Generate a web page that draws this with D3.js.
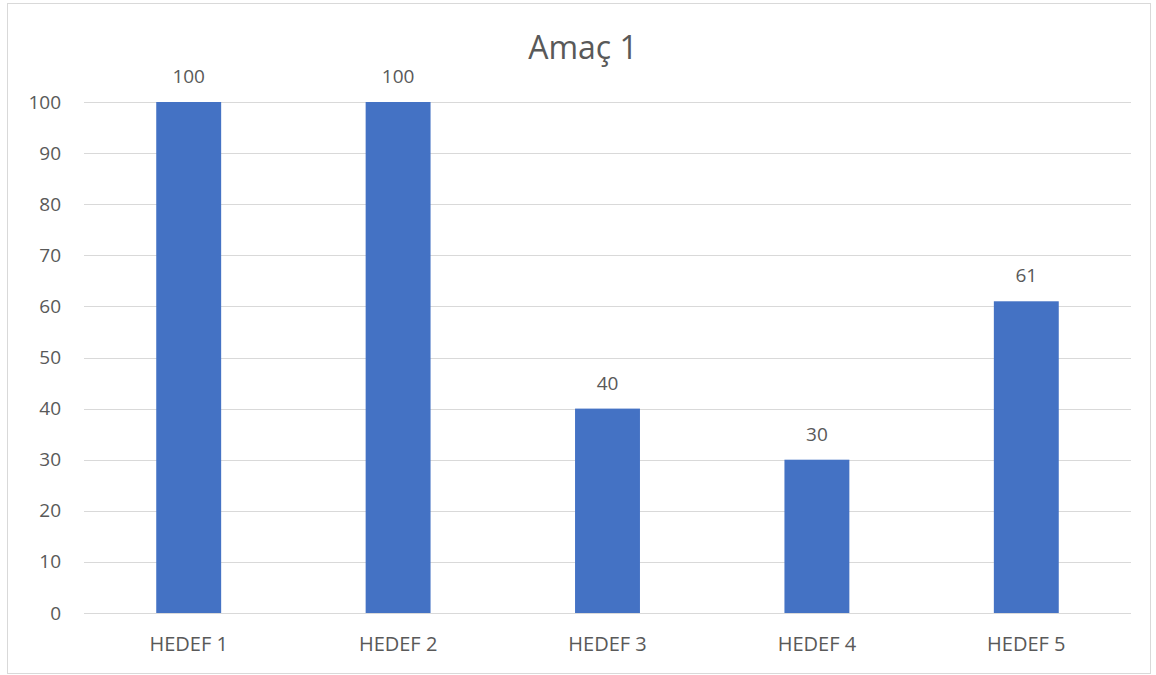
<!DOCTYPE html>
<html>
<head>
<meta charset="utf-8">
<script src="https://cdn.jsdelivr.net/npm/d3@7"></script>
<style>
  body { margin: 0; background: #fff; }
  text { font-family: "Open Sans", "Liberation Sans", sans-serif; fill: #595959; }
</style>
</head>
<body>
<svg id="chart"></svg>
<script>
'use strict';

var categories = ['HEDEF 1', 'HEDEF 2', 'HEDEF 3', 'HEDEF 4', 'HEDEF 5'];
var values = [100, 100, 40, 30, 61];
var yTicks = [0, 10, 20, 30, 40, 50, 60, 70, 80, 90, 100];
var title = 'Amaç 1';

var width = 1156,
  height = 675,
  margin = {'top': 102, 'left': 84, 'right': 25, 'bottom': 62};

var svg = d3.select('#chart')
  .attr('width', width)
  .attr('height', height);

// outer chart border
svg.append('rect')
  .attr('x', 7.5)
  .attr('y', 3.5)
  .attr('width', 1143)
  .attr('height', 670)
  .attr('fill', '#fff')
  .attr('stroke', '#d9d9d9');

var xScale = d3.scaleBand()
  .domain(categories)
  .range([margin.left, width - margin.right])
  .paddingInner(0.69)
  .paddingOuter(0.345);

var yScale = d3.scaleLinear()
  .domain([0, 100])
  .range([height - margin.bottom, margin.top]);

// gridlines
svg.append('g')
  .selectAll('line').data(yTicks).enter()
  .append('line')
  .attr('x1', margin.left)
  .attr('x2', width - margin.right)
  .attr('y1', function (d) { return Math.round(yScale(d)) + 0.5; })
  .attr('y2', function (d) { return Math.round(yScale(d)) + 0.5; })
  .attr('stroke', '#d9d9d9')
  .attr('stroke-width', 1);

// y labels
var yAxis = d3.axisLeft(yScale).tickValues(yTicks).tickSize(0).tickPadding(23);
var yg = svg.append('g')
  .attr('transform', 'translate(' + margin.left + ',0)')
  .call(yAxis);
yg.select('.domain').remove();
yg.selectAll('text').attr('font-size', 19).attr('fill', '#595959');

// x labels
var xAxis = d3.axisBottom(xScale).tickSize(0);
var xg = svg.append('g')
  .attr('transform', 'translate(0,' + (height - margin.bottom) + ')')
  .call(xAxis);
xg.select('.domain').remove();
xg.selectAll('text')
  .attr('y', 38)
  .attr('dy', null)
  .attr('font-size', 20)
  .attr('fill', '#595959');

// bars
svg.append('g')
  .selectAll('rect').data(values).enter()
  .append('rect')
  .attr('x', function (d, i) { return xScale(categories[i]); })
  .attr('y', function (d) { return yScale(d); })
  .attr('width', xScale.bandwidth())
  .attr('height', function (d) { return yScale(0) - yScale(d); })
  .attr('fill', '#4472c4');

// value labels
svg.append('g')
  .selectAll('text').data(values).enter()
  .append('text')
  .attr('x', function (d, i) { return xScale(categories[i]) + xScale.bandwidth() / 2; })
  .attr('y', function (d) { return yScale(d) - 19; })
  .attr('text-anchor', 'middle')
  .attr('font-size', 19)
  .text(function (d) { return d; });

svg.append('text')
  .attr('x', 583)
  .attr('y', 59)
  .attr('text-anchor', 'middle')
  .attr('font-size', 32)
  .text(title);
</script>
</body>
</html>
